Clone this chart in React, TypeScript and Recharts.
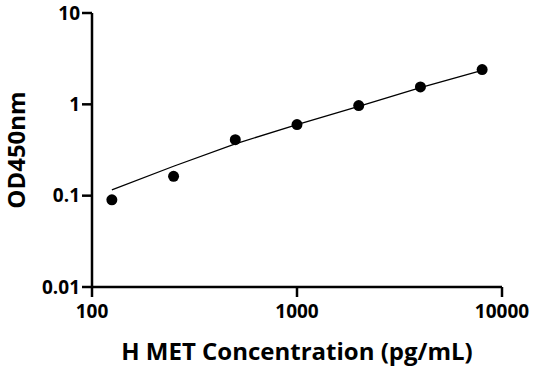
import { ComposedChart, Scatter, XAxis, YAxis } from 'recharts';

const concentrations = [125, 250, 500, 1000, 2000, 4000, 8000];
const odValues = [0.09, 0.163, 0.41, 0.6, 0.97, 1.55, 2.4];
const fitValues = [0.116, 0.21, 0.37, 0.6, 0.95, 1.52, 2.35];
const xTicks = [100, 1000, 10000];
const yTicks = [0.01, 0.1, 1, 10];

const points = concentrations.map((x, i) => ({ x, y: odValues[i] }));
const fit = concentrations.map((x, i) => ({ x, y: fitValues[i] }));

const font = "'Open Sans', 'Noto Sans', sans-serif";

const Dot = ({ cx, cy }: any) => <circle cx={cx} cy={cy} r={5.5} fill="#000" />;

export default function App() {
  return (
    <div style={{ position: 'absolute', left: 0, top: 0, background: '#fff' }}>
      <ComposedChart width={536} height={371} margin={{ top: 13, right: 34, left: 0, bottom: 0 }}>
        <XAxis
          type="number"
          dataKey="x"
          scale="log"
          domain={[100, 10000]}
          ticks={xTicks}
          allowDataOverflow
          height={84}
          tickSize={10}
          tickMargin={8}
          stroke="#000"
          strokeWidth={2.5}
          tick={{ fontSize: 19, fontWeight: 700, fill: '#000', fontFamily: font }}
          label={({ viewBox }: any) => (
            <text
              x={viewBox.x + viewBox.width / 2}
              y={360}
              textAnchor="middle"
              fontSize={24}
              fontWeight={700}
              fontFamily={font}
              fill="#000"
            >
              H MET Concentration (pg/mL)
            </text>
          )}
        />
        <YAxis
          type="number"
          dataKey="y"
          scale="log"
          domain={[0.01, 10]}
          ticks={yTicks}
          allowDataOverflow
          width={92}
          tickSize={10}
          tickMargin={2}
          stroke="#000"
          strokeWidth={2.5}
          tickFormatter={(v: number) => String(v)}
          tick={{ fontSize: 19, fontWeight: 700, fill: '#000', fontFamily: font }}
          label={({ viewBox }: any) => (
            <text
              x={25}
              y={viewBox.y + viewBox.height / 2}
              transform={`rotate(-90, 25, ${viewBox.y + viewBox.height / 2})`}
              textAnchor="middle"
              fontSize={24}
              fontWeight={700}
              fontFamily={font}
              fill="#000"
            >
              OD450nm
            </text>
          )}
        />
        <Scatter
          data={fit}
          line={{ stroke: '#000', strokeWidth: 1.3 }}
          lineType="joint"
          shape={() => <g />}
          isAnimationActive={false}
        />
        <Scatter data={points} shape={Dot} isAnimationActive={false} />
      </ComposedChart>
    </div>
  );
}
